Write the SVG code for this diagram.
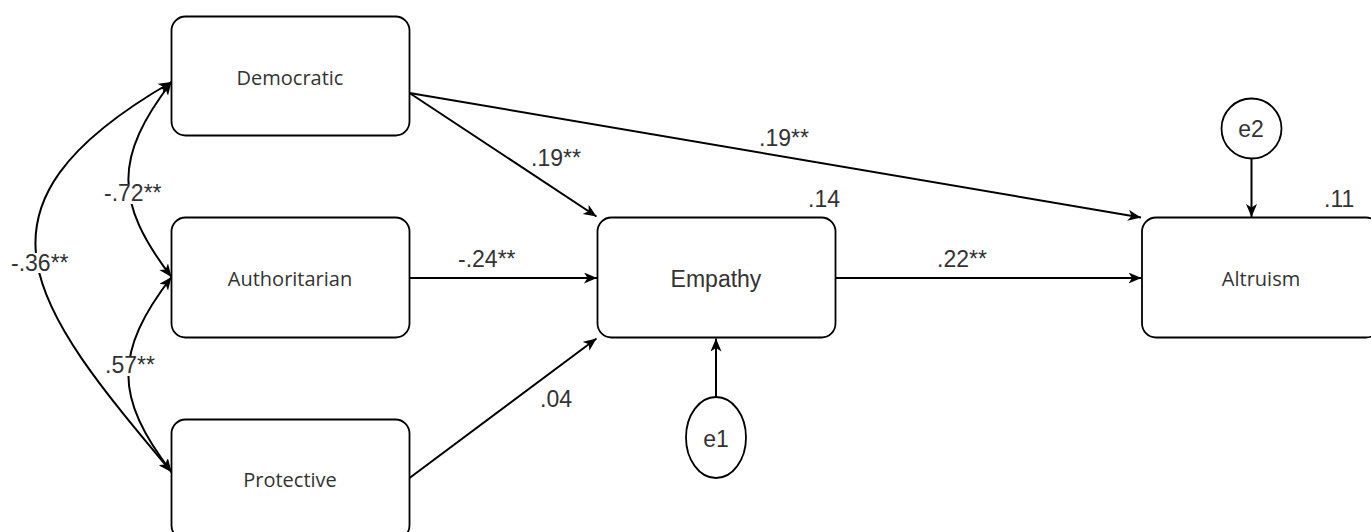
<svg xmlns="http://www.w3.org/2000/svg" width="1371" height="532" viewBox="0 0 1371 532">
<style>
.box{fill:#fff;stroke:#000;stroke-width:1.8}
.lbl{font-family:"Open Sans","Liberation Sans",sans-serif;font-size:20px;fill:#333;text-anchor:middle}
.lbl2{font-family:"Liberation Sans",Arial,sans-serif;font-size:23px;fill:#333;text-anchor:middle}
.num{font-family:"Liberation Sans",Arial,sans-serif;font-size:23px;fill:#333}
.edge{fill:none;stroke:#000;stroke-width:2}
.bg{fill:#fff}
</style>
<defs>
<marker id="arr" markerUnits="userSpaceOnUse" markerWidth="14" markerHeight="12" refX="13" refY="5.5" orient="auto-start-reverse" viewBox="0 0 14 12">
<path d="M0,0 L13,5.5 L0,11 L3.5,5.5 z" fill="#000"/>
</marker>
</defs>
<rect width="1371" height="532" fill="#fff"/>
<g id="connectors">
<line class="edge" x1="409.5" y1="93" x2="596.5" y2="216.5" marker-end="url(#arr)"/>
<line class="edge" x1="409.5" y1="93" x2="1141" y2="217.5" marker-end="url(#arr)"/>
<line class="edge" x1="409.5" y1="278" x2="597" y2="278" marker-end="url(#arr)"/>
<line class="edge" x1="409.5" y1="478" x2="596.5" y2="338.5" marker-end="url(#arr)"/>
<line class="edge" x1="835.5" y1="278" x2="1141.5" y2="278" marker-end="url(#arr)"/>
<line class="edge" x1="716" y1="397" x2="716" y2="338.5" marker-end="url(#arr)"/>
<line class="edge" x1="1251.5" y1="158.5" x2="1251.5" y2="217" marker-end="url(#arr)"/>
<path class="edge" d="M171.5,82 C114,157 114,202 171.5,277" marker-start="url(#arr)" marker-end="url(#arr)"/>
<path class="edge" d="M171.5,277 C114,352 114,397 171.5,472" marker-start="url(#arr)" marker-end="url(#arr)"/>
<path class="edge" d="M171.5,82 C-47.4,208.4 31.7,305.5 171.5,472" marker-start="url(#arr)" marker-end="url(#arr)"/>
<rect class="bg" x="103" y="184" width="58" height="20"/>
<rect class="bg" x="10" y="253" width="58" height="20"/>
<rect class="bg" x="104" y="356" width="52" height="20"/>
<text class="num" x="104" y="201">-.72**</text>
<text class="num" x="11" y="271">-.36**</text>
<text class="num" x="105" y="373">.57**</text>
<text class="num" x="531" y="166">.19**</text>
<text class="num" x="458" y="266.5">-.24**</text>
<text class="num" x="759" y="146">.19**</text>
<text class="num" x="540" y="407">.04</text>
<text class="num" x="937" y="266.5">.22**</text>
</g>
<g id="democratic">
<rect class="box" x="171.5" y="16.5" width="238" height="119" rx="14"/>
<text class="lbl" x="290" y="85">Democratic</text>
</g>
<g id="authoritarian">
<rect class="box" x="171.5" y="217.5" width="238" height="120" rx="14"/>
<text class="lbl" x="290" y="286">Authoritarian</text>
</g>
<g id="protective">
<rect class="box" x="171.5" y="419.5" width="238" height="120" rx="14"/>
<text class="lbl" x="290" y="487">Protective</text>
</g>
<g id="empathy">
<rect class="box" x="597.5" y="217.5" width="238" height="120" rx="14"/>
<text class="lbl2" x="716" y="286.5">Empathy</text>
<text class="num" x="808" y="207">.14</text>
</g>
<g id="altruism">
<rect class="box" x="1142" y="217.5" width="238" height="120" rx="14"/>
<text class="lbl" x="1261" y="286">Altruism</text>
<text class="num" x="1324" y="206.5">.11</text>
</g>
<g id="e1">
<ellipse class="box" cx="716" cy="437.5" rx="30" ry="40.5"/>
<text class="lbl2" x="716" y="446.5">e1</text>
</g>
<g id="e2">
<circle class="box" cx="1251.5" cy="128.5" r="30"/>
<text class="lbl2" x="1251" y="136.7">e2</text>
</g>
</svg>
